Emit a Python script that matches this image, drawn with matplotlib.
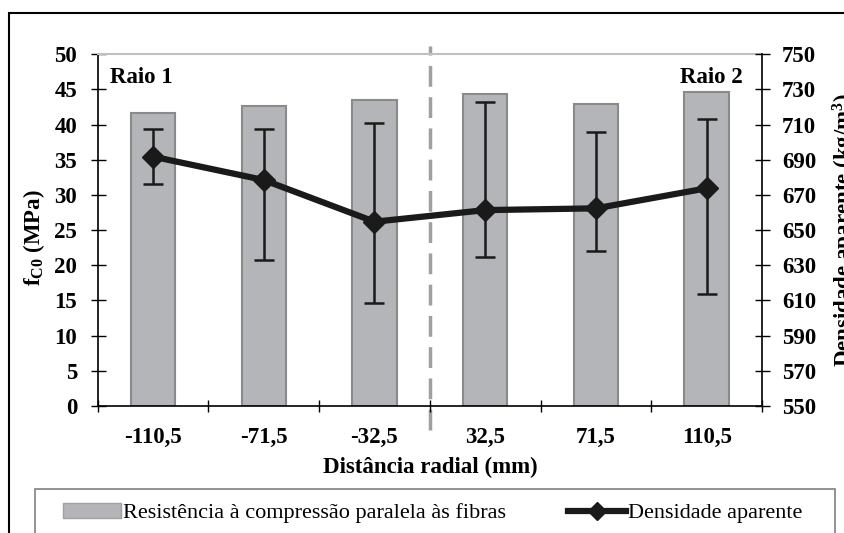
import numpy as np
import matplotlib
matplotlib.use('Agg')
import matplotlib.pyplot as plt
from matplotlib.patches import Rectangle, Patch
from matplotlib.lines import Line2D

# Dados
distancias = ['-110,5', '-71,5', '-32,5', '32,5', '71,5', '110,5']
resistencia = [41.6, 42.7, 43.5, 44.4, 42.9, 44.7]          # fc0 (MPa)
densidade = [691.8, 678.5, 654.8, 661.4, 662.4, 673.8]       # kg/m3
densidade_min = [676.2, 633.0, 608.7, 634.5, 638.3, 613.7]
densidade_max = [707.5, 707.5, 711.0, 723.0, 706.0, 713.0]

plt.rcParams['font.family'] = ['Liberation Serif', 'DejaVu Serif']
plt.rcParams['mathtext.fontset'] = 'custom'
plt.rcParams['mathtext.rm'] = 'Liberation Serif:bold'
plt.rcParams['mathtext.bf'] = 'Liberation Serif:bold'
plt.rcParams['mathtext.it'] = 'Liberation Serif:bold'

FS = 16.5  # tamanho das fontes em negrito

fig = plt.figure(figsize=(8.45, 5.33), dpi=100)
ax = fig.add_axes([97.7 / 845, 1 - 406 / 533, (762 - 97.7) / 845, (406 - 54.3) / 533])
ax2 = ax.twinx()

x = np.arange(len(distancias))

# Barras - resistência
ax.bar(x, resistencia, width=0.4, color='#b4b5b8', edgecolor='#8a8a8a', linewidth=1.5, zorder=2)
ax.set_xlim(-0.5, 5.5)
ax.set_ylim(0, 50)
ax.set_yticks(np.arange(0, 51, 5))

# Linha - densidade com barras de erro
yerr = [np.array(densidade) - np.array(densidade_min), np.array(densidade_max) - np.array(densidade)]
ax2.errorbar(x, densidade, yerr=yerr, fmt='none', ecolor='#1a1a1a', elinewidth=1.8,
             capsize=7, capthick=1.8, zorder=3)
ax2.plot(x, densidade, color='#1a1a1a', linewidth=4.5, marker='D', markersize=11, zorder=4)
ax2.set_ylim(550, 750)
ax2.set_yticks(np.arange(550, 751, 20))

# Linha tracejada separando os raios
ax.axvline(2.5, ymin=-0.068, ymax=1.023, color='#a0a0a0', linewidth=2.5,
           dashes=(6, 3), clip_on=False, zorder=1)

# Eixos e spines
for s in ['top', 'left', 'bottom']:
    ax2.spines[s].set_visible(False)
ax.spines['right'].set_visible(False)
ax.spines['top'].set_color('#c0c0c0')
ax.spines['top'].set_linewidth(1.5)
for s in ['left', 'bottom']:
    ax.spines[s].set_linewidth(1.2)
ax2.spines['right'].set_linewidth(1.2)

ax.set_xticks(x)
ax.set_xticklabels(distancias)
ax.set_xticks(np.arange(-0.5, 6, 1), minor=True)
ax.tick_params(axis='x', which='major', length=0, pad=15)
ax.tick_params(axis='x', which='minor', direction='inout', length=9, width=1)
ax.tick_params(axis='y', direction='inout', length=10.8, width=1, pad=9.5)
ax2.tick_params(axis='y', direction='inout', length=10.8, width=1, pad=9)

for lab in ax.get_xticklabels() + ax.get_yticklabels() + ax2.get_yticklabels():
    lab.set_fontsize(FS)
    lab.set_fontweight('bold')

ax.set_ylabel(r'f$_{\mathbf{C0}}$ (MPa)', fontsize=FS, fontweight='bold')
ax.yaxis.set_label_coords(-0.076, 0.48)
ax2.set_ylabel(r'Densidade aparente (kg/m$^{\mathbf{3}}$)', fontsize=FS, fontweight='bold')
ax2.yaxis.set_label_coords(1.104, 0.5)
ax.set_xlabel('Distância radial (mm)', fontsize=FS, fontweight='bold')
ax.xaxis.set_label_coords(0.5, -0.145)

ax.text(0.0185, 0.935, 'Raio 1', transform=ax.transAxes, fontsize=FS, fontweight='bold',
        ha='left', va='center')
ax.text(0.971, 0.935, 'Raio 2', transform=ax.transAxes, fontsize=FS, fontweight='bold',
        ha='right', va='center')

# Legenda
handles = [Patch(facecolor='#b4b5b8', edgecolor='#a0a0a0', linewidth=1),
           Line2D([], [], color='#1a1a1a', linewidth=4.5, marker='D', markersize=9)]
labels = ['Resistência à compressão paralela às fibras', 'Densidade aparente']
fig.legend(handles, labels, loc='center left', bbox_to_anchor=(63 / 845, 1 - 513 / 533),
           ncol=2, frameon=False, fontsize=16, handlelength=2.6, handleheight=0.65,
           handletextpad=0.1, columnspacing=2.8, borderpad=0, borderaxespad=0)
fig.patches.append(Rectangle((35 / 845, -0.2), 800 / 845, 1.2 - 489 / 533,
                             transform=fig.transFigure, fill=False, edgecolor='#808080',
                             linewidth=1.2))

# Moldura externa
fig.patches.append(Rectangle((9 / 845, -0.2), 1.5, 1.2 - 12.7 / 533,
                             transform=fig.transFigure, fill=False, edgecolor='black',
                             linewidth=1.5))

fig.savefig('out.png', dpi=100)
